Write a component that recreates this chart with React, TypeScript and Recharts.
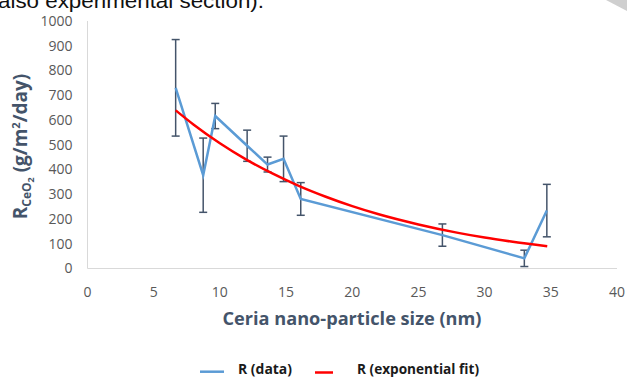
import React from 'react';
import { ComposedChart, Line, XAxis, YAxis, ErrorBar } from 'recharts';

// Measured data: ceria nano-particle size (nm) vs rate (g/m2/day)
const sizes = [6.66, 8.74, 9.65, 12.06, 13.6, 14.81, 16.11, 26.81, 33.0, 34.7];
const rates = [730, 377, 616, 496, 420, 443, 281, 135, 41, 234];
const errors = [195, 150, 51, 63, 30, 92, 66, 45, 33, 106];

// Exponential fit curve
const fitSizes = [6.66, 8, 10, 12, 14, 16, 18, 20, 22, 25, 28, 30, 32, 34.73];
const fitRates = [639, 582, 506, 440, 383, 333, 290, 252, 219, 178, 144, 125, 109, 90];

const xTicks = [0, 5, 10, 15, 20, 25, 30, 35, 40];
const yTicks = [0, 100, 200, 300, 400, 500, 600, 700, 800, 900, 1000];

const dataSeries = sizes.map((x, i) => ({ x, r: rates[i], err: errors[i] }));
const fitSeries = fitSizes.map((x, i) => ({ x, fit: fitRates[i] }));

const FONT = '"Open Sans", "Liberation Sans", sans-serif';
const TITLE_COLOR = '#44546a';

export default function App() {
  return (
    <div style={{ position: 'absolute', left: 0, top: 0, width: 627, height: 379, background: '#fff', overflow: 'hidden' }}>
      <ComposedChart
        width={627}
        height={379}
        margin={{ top: 21, right: 10, bottom: 80.5, left: 0 }}
        style={{ position: 'absolute', left: 0, top: 0 }}
      >
        <XAxis
          type="number"
          dataKey="x"
          domain={[0, 40]}
          ticks={xTicks}
          allowDataOverflow
          height={30}
          axisLine={{ stroke: '#d9d9d9', strokeWidth: 1 }}
          tickLine={false}
          tickSize={0}
          tickMargin={19}
          tick={{ fill: '#595959', fontSize: 14, fontFamily: FONT }}
          interval={0}
        />
        <YAxis
          type="number"
          domain={[0, 1000]}
          ticks={yTicks}
          width={87.5}
          axisLine={{ stroke: '#d9d9d9', strokeWidth: 1 }}
          tickLine={false}
          tickSize={0}
          tickMargin={15}
          tick={{ fill: '#595959', fontSize: 14, fontFamily: FONT }}
          interval={0}
        />
        <Line
          data={dataSeries}
          dataKey="r"
          type="linear"
          stroke="#5b9bd5"
          strokeWidth={2.5}
          dot={false}
          activeDot={false}
          isAnimationActive={false}
        >
          <ErrorBar dataKey="err" direction="y" width={4} stroke="#44546a" strokeWidth={1.5} />
        </Line>
        <Line
          data={fitSeries}
          dataKey="fit"
          type="monotone"
          stroke="#ff0000"
          strokeWidth={2.5}
          dot={false}
          activeDot={false}
          isAnimationActive={false}
        />
      </ComposedChart>
      <svg width={627} height={379} style={{ position: 'absolute', left: 0, top: 0, pointerEvents: 'none' }}>
        <polygon points="606,0 627,0 627,11" fill="#cfcfcf" />
        <text x={-2} y={7.5} fontSize={20} fontFamily='"Liberation Sans", Arial, sans-serif' fill="#111" textLength={266} lengthAdjust="spacingAndGlyphs">
          also experimental section).
        </text>
        <text
          x={27}
          y={146.5}
          transform="rotate(-90, 27, 146.5)"
          textAnchor="middle"
          fontFamily={FONT}
          fontWeight="bold"
          fill={TITLE_COLOR}
          fontSize={19}
        >
          <tspan>R</tspan>
          <tspan fontSize={12} dy={4}>CeO</tspan>
          <tspan fontSize={9} dy={3}>2</tspan>
          <tspan fontSize={19} dy={-7}> (g/m</tspan>
          <tspan fontSize={11} dy={-7}>2</tspan>
          <tspan fontSize={19} dy={7}>/day)</tspan>
        </text>
        <text
          x={352}
          y={325}
          textAnchor="middle"
          fontFamily={FONT}
          fontWeight="bold"
          fill={TITLE_COLOR}
          fontSize={18}
          textLength={259}
          lengthAdjust="spacingAndGlyphs"
        >
          Ceria nano-particle size (nm)
        </text>
        <line x1={200} x2={224} y1={371.7} y2={371.7} stroke="#5b9bd5" strokeWidth={2.5} />
        <text x={238} y={374} fontFamily={FONT} fontWeight="bold" fontSize={14} fill="#1a1a1a" textLength={54} lengthAdjust="spacingAndGlyphs">
          R (data)
        </text>
        <line x1={315} x2={333} y1={372.5} y2={372.5} stroke="#ff0000" strokeWidth={2.5} />
        <text x={357} y={374} fontFamily={FONT} fontWeight="bold" fontSize={14} fill="#1a1a1a" textLength={122} lengthAdjust="spacingAndGlyphs">
          R (exponential fit)
        </text>
      </svg>
    </div>
  );
}
